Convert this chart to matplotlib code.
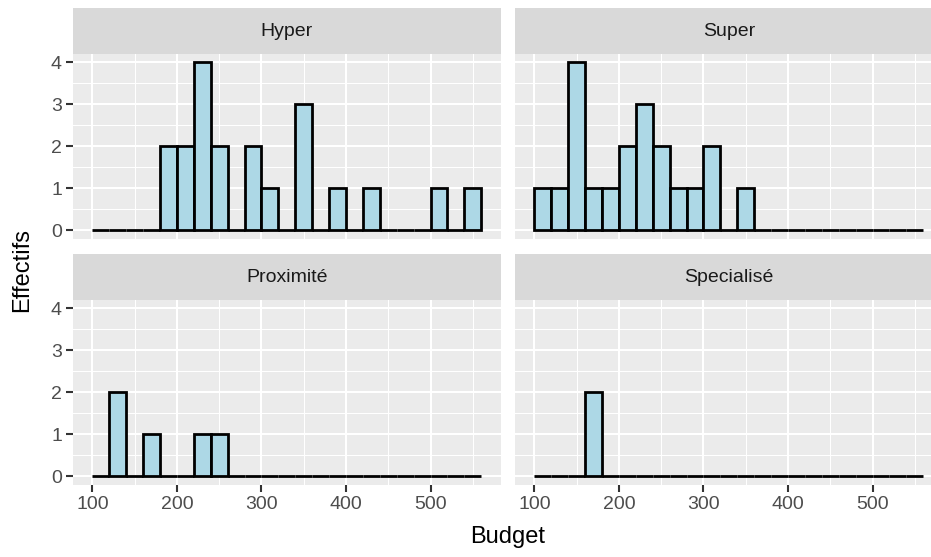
import matplotlib
matplotlib.use("Agg")
import matplotlib.pyplot as plt
import numpy as np

plt.rcParams["font.family"] = ["Liberation Sans", "DejaVu Sans"]

# histogram bins: width 20 from 100 to 560
bin_edges = np.arange(100, 561, 20)
facets = ["Hyper", "Super", "Proximité", "Specialisé"]
hyper = [0, 0, 0, 0, 2, 2, 4, 2, 0, 2, 1, 0, 3, 0, 1, 0, 1, 0, 0, 0, 1, 0, 1]
super_ = [1, 1, 4, 1, 1, 2, 3, 2, 1, 1, 2, 0, 1, 0, 0, 0, 0, 0, 0, 0, 0, 0, 0]
proximite = [0, 2, 0, 1, 0, 0, 1, 1, 0, 0, 0, 0, 0, 0, 0, 0, 0, 0, 0, 0, 0, 0, 0]
specialise = [0, 0, 0, 2, 0, 0, 0, 0, 0, 0, 0, 0, 0, 0, 0, 0, 0, 0, 0, 0, 0, 0, 0]
counts = [hyper, super_, proximite, specialise]

x_ticks = [100, 200, 300, 400, 500]
y_ticks = [0, 1, 2, 3, 4]

W, H = 931, 557
fig = plt.figure(figsize=(W / 100, H / 100), dpi=100)

panel_w = 427.7
panel_h = 184.8
strip_h = 46
lefts = [73, 515]
tops = [54, 300]

tick_col = "#4D4D4D"
for i, name in enumerate(facets):
    row, col = divmod(i, 2)
    x0 = lefts[col]
    y_top = tops[row]
    ax = fig.add_axes([x0 / W, 1 - (y_top + panel_h) / H, panel_w / W, panel_h / H])
    ax.set_facecolor("#EBEBEB")
    ax.set_xlim(77, 583)
    ax.set_ylim(-0.2, 4.2)
    ax.set_xticks(x_ticks)
    ax.set_yticks(y_ticks)
    ax.set_xticks(np.arange(150, 600, 100), minor=True)
    ax.set_yticks(np.arange(0.5, 4, 1), minor=True)
    ax.grid(which="major", color="white", linewidth=1.5)
    ax.grid(which="minor", color="white", linewidth=0.75)
    ax.set_axisbelow(True)
    for s in ax.spines.values():
        s.set_visible(False)
    ax.tick_params(which="major", length=5, width=1.5, color="#333333",
                   labelsize=14, labelcolor=tick_col, pad=3)
    ax.tick_params(which="minor", length=0)
    if col == 1:
        ax.tick_params(axis="y", labelleft=False, length=0)
    if row == 0:
        ax.tick_params(axis="x", labelbottom=False, length=0)

    ax.bar(bin_edges[:-1], counts[i], width=20, align="edge",
           color="#ADD8E6", edgecolor="black", linewidth=2, zorder=3)

    # facet strip
    sax = fig.add_axes([x0 / W, 1 - y_top / H, panel_w / W, strip_h / H])
    sax.set_facecolor("#D9D9D9")
    sax.set_xticks([])
    sax.set_yticks([])
    for s in sax.spines.values():
        s.set_visible(False)
    sax.text(0.5, 0.5, name, ha="center", va="center", fontsize=14,
             color="#1A1A1A", transform=sax.transAxes)

fig.text(508 / W, 1 - 537 / H, "Budget", ha="center", va="center", fontsize=17)
fig.text(22 / W, 1 - 270 / H, "Effectifs", ha="center", va="center",
         rotation=90, fontsize=17)

fig.savefig("out.png", dpi=100)
